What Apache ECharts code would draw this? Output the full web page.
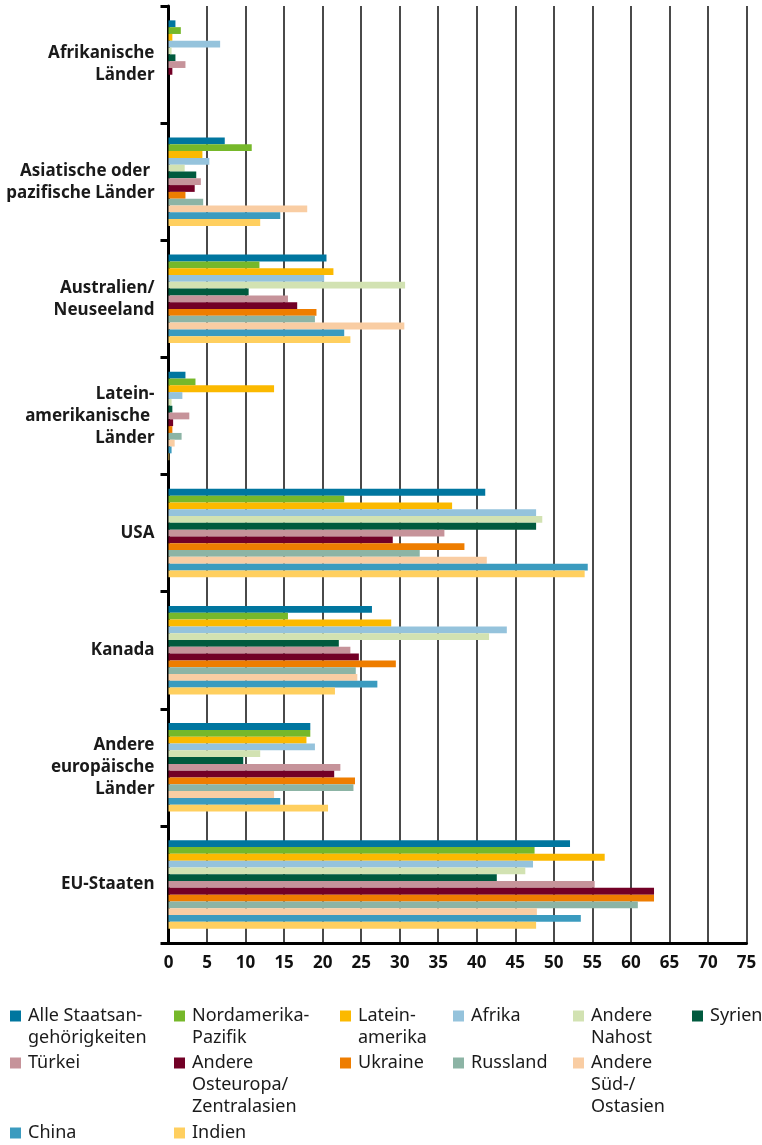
<!DOCTYPE html>
<html><head><meta charset="utf-8">
<script src="https://cdn.jsdelivr.net/npm/echarts@6/dist/echarts.min.js"></script>
<style>html,body{margin:0;padding:0;background:#fff}#c{width:762px;height:1145px}</style>
</head><body><div id="c"></div>
<script>
// Categories (top to bottom) and their tick labels
const categories = ['Afrikanische Länder', 'Asiatische oder pazifische Länder', 'Australien/Neuseeland', 'Lateinamerikanische Länder', 'USA', 'Kanada', 'Andere europäische Länder', 'EU-Staaten'];
const categoryLabels = ['Afrikanische\nLänder', 'Asiatische oder \npazifische Länder', 'Australien/\nNeuseeland', 'Latein-\namerikanische \nLänder', 'USA', 'Kanada', 'Andere\neuropäische\nLänder', 'EU-Staaten'];
const xTickValues = [0, 5, 10, 15, 20, 25, 30, 35, 40, 45, 50, 55, 60, 65, 70, 75];

// Series names and legend labels
const seriesNames = ['Alle Staatsangehörigkeiten', 'Nordamerika-Pazifik', 'Lateinamerika', 'Afrika', 'Andere Nahost', 'Syrien', 'Türkei', 'Andere Osteuropa/Zentralasien', 'Ukraine', 'Russland', 'Andere Süd-/Ostasien', 'China', 'Indien'];
const legendLabels = ['Alle Staatsan-\ngehörigkeiten', 'Nordamerika-\nPazifik', 'Latein-\namerika', 'Afrika', 'Andere\nNahost', 'Syrien', 'Türkei', 'Andere\nOsteuropa/\nZentralasien', 'Ukraine', 'Russland', 'Andere\nSüd-/\nOstasien', 'China', 'Indien'];

// Series values (one per category, same order as categories)
const alle       = [0.9, 7.3, 20.5, 2.2, 41.1, 26.4, 18.4, 52.1];
const nordamerika= [1.6, 10.8, 11.8, 3.5, 22.8, 15.5, 18.4, 47.5];
const latein     = [0.5, 4.4, 21.4, 13.7, 36.8, 28.9, 17.9, 56.6];
const afrika     = [6.7, 5.3, 20.2, 1.8, 47.7, 43.9, 19.0, 47.3];
const nahost     = [0.4, 2.1, 30.7, 0.4, 48.5, 41.6, 11.9, 46.3];
const syrien     = [0.9, 3.6, 10.4, 0.5, 47.7, 22.1, 9.7, 42.6];
const tuerkei    = [2.2, 4.2, 15.5, 2.7, 35.8, 23.6, 22.3, 55.3];
const osteuropa  = [0.5, 3.4, 16.7, 0.6, 29.1, 24.7, 21.5, 63.0];
const ukraine    = [0.0, 2.2, 19.2, 0.5, 38.4, 29.5, 24.2, 63.0];
const russland   = [0.0, 4.5, 19.0, 1.7, 32.6, 24.3, 24.0, 60.9];
const suedost    = [0.0, 18.0, 30.6, 0.8, 41.3, 24.5, 13.7, 47.8];
const china      = [0.0, 14.5, 22.8, 0.4, 54.4, 27.1, 14.5, 53.5];
const indien     = [0.0, 11.9, 23.6, 0.1, 54.0, 21.6, 20.7, 47.7];
const seriesValues = [alle, nordamerika, latein, afrika, nahost, syrien, tuerkei, osteuropa, ukraine, russland, suedost, china, indien];

const colors = ['#00769f', '#76b82a', '#fbb900', '#95c3dc', '#d2e2b2', '#005a3e', '#c6939a', '#720026', '#ee7d00', '#8cb4a5', '#f9cda3', '#3b9bbf', '#ffcf5f'];

// Legend layout (icon left x, icon center y)
const legendPos = [
  [10, 1016], [174, 1016], [340, 1016], [453, 1016], [573, 1016], [692, 1016],
  [10, 1063], [174, 1063], [340, 1063], [453, 1063], [573, 1063],
  [10, 1133], [174, 1133]
];

const FONT = '"Noto Sans", sans-serif';
const LH = 22;

const legends = seriesNames.map((name, i) => {
  const lines = legendLabels[i].split('\n').length;
  const boxH = (2 * lines - 1) * LH;
  // leading blank lines keep the first text line level with the icon
  const text = ' \n'.repeat(lines - 1) + legendLabels[i];
  return {
    data: [name],
    left: legendPos[i][0],
    top: legendPos[i][1] - boxH / 2,
    padding: 0,
    itemWidth: 11,
    itemHeight: 11,
    icon: 'rect',
    selectedMode: false,
    formatter: () => text,
    textStyle: {
      fontFamily: FONT, fontSize: 18, color: '#1a1a1a', lineHeight: LH,
      padding: [0, 0, 0, 2]
    }
  };
});

const chart = echarts.init(document.getElementById('c'), null, {renderer: 'canvas'});
chart.setOption({
  animation: false,
  color: colors,
  textStyle: {fontFamily: FONT},
  grid: {left: 168.5, right: 15.5, top: 6, bottom: 202, containLabel: false},
  legend: legends,
  xAxis: {
    type: 'value', min: xTickValues[0], max: xTickValues[xTickValues.length - 1], interval: 5,
    axisLine: {show: true, lineStyle: {color: '#000', width: 3}},
    axisTick: {show: false},
    splitLine: {show: true, lineStyle: {color: '#4a4a4a', width: 2}},
    axisLabel: {fontFamily: FONT, fontSize: 17, fontWeight: 'bold', color: '#111', margin: 12}
  },
  yAxis: {
    type: 'category', inverse: true, data: categories,
    axisLine: {show: true, lineStyle: {color: '#000', width: 3}},
    axisTick: {show: true, length: 8, lineStyle: {color: '#000', width: 3}},
    axisLabel: {
      formatter: (v, idx) => categoryLabels[idx],
      fontFamily: FONT, fontSize: 17, fontWeight: 'bold', color: '#1a1a1a',
      lineHeight: LH, align: 'right', margin: 14
    }
  },
  series: seriesNames.map((name, i) => ({
    name: name, type: 'bar', data: seriesValues[i],
    barWidth: 6.8, barGap: '0%',
    itemStyle: {color: colors[i]}
  }))
});
</script></body></html>
